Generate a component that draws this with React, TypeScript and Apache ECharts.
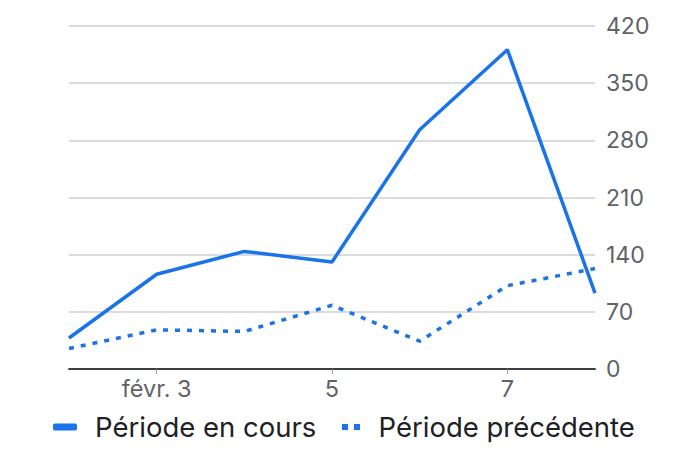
import React, { useEffect, useRef } from "react";
import * as echarts from "echarts";

const categories = ["févr. 2", "févr. 3", "4", "5", "6", "7", "8"];
const currentPeriod = [38, 116, 144, 131, 293, 391, 93];
const previousPeriod = [25, 48, 46, 78, 34, 102, 123];
const yTicks = { min: 0, max: 420, interval: 70 };
const seriesNames = ["Période en cours", "Période précédente"];

const BLUE = "#1a73e8";
const FONT = "Inter, Roboto, sans-serif";

export default function App() {
  const ref = useRef<HTMLDivElement>(null);
  useEffect(() => {
    if (!ref.current) return;
    const chart = echarts.init(ref.current, undefined, { renderer: "svg" });
    const showOdd = (i: number) => i % 2 === 1;
    const legendText = { color: "#202124", fontSize: 27.5, fontFamily: FONT, padding: [0, 0, 0, 13] };
    chart.setOption({
      animation: false,
      textStyle: { fontFamily: FONT },
      grid: { left: 69, right: 79, top: 26, bottom: 84, containLabel: false },
      xAxis: {
        type: "category",
        data: categories,
        boundaryGap: false,
        axisLine: { lineStyle: { color: "#3c4043", width: 2 } },
        axisTick: { show: true, interval: showOdd, length: 5, lineStyle: { color: "#9aa0a6", width: 1 } },
        axisLabel: { interval: showOdd, color: "#5f6368", fontSize: 23.5, margin: 7, fontFamily: FONT },
        splitLine: { show: false },
      },
      yAxis: {
        type: "value",
        position: "right",
        min: yTicks.min,
        max: yTicks.max,
        interval: yTicks.interval,
        axisLine: { show: false },
        axisTick: { show: false },
        axisLabel: { color: "#5f6368", fontSize: 23, margin: 11, fontFamily: FONT },
        splitLine: { lineStyle: { color: "#dadce0", width: 2 } },
      },
      legend: [
        {
          top: 413,
          left: 53,
          padding: 0,
          itemWidth: 24,
          itemHeight: 7,
          textStyle: legendText,
          data: [{ name: seriesNames[0], icon: "roundRect", itemStyle: { color: BLUE } }],
        },
        {
          top: 413,
          left: 342,
          padding: 0,
          itemWidth: 19,
          itemHeight: 6,
          textStyle: legendText,
          data: [{ name: seriesNames[1], icon: "path://M0,0h6v6h-6zM12,0h6v6h-6z", itemStyle: { color: BLUE } }],
        },
      ],
      series: [
        {
          name: seriesNames[0],
          type: "line",
          data: currentPeriod,
          symbol: "none",
          lineStyle: { color: BLUE, width: 3.5 },
          itemStyle: { color: BLUE },
          z: 3,
        },
        {
          name: seriesNames[1],
          type: "line",
          data: previousPeriod,
          symbol: "none",
          lineStyle: { color: BLUE, width: 3.5, type: [5, 7] },
          itemStyle: { color: BLUE },
          z: 2,
        },
      ],
    });
    return () => chart.dispose();
  }, []);
  return <div ref={ref} style={{ width: 674, height: 453, position: "absolute", left: 0, top: 0 }} />;
}
